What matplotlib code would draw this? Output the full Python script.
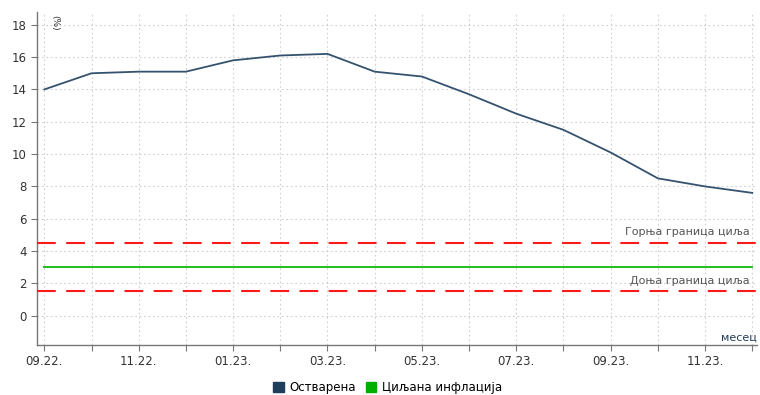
import matplotlib
matplotlib.use("Agg")
import matplotlib.pyplot as plt
from matplotlib.patches import Patch

months = ["09.22.", "10.22.", "11.22.", "12.22.", "01.23.", "02.23.", "03.23.", "04.23.",
          "05.23.", "06.23.", "07.23.", "08.23.", "09.23.", "10.23.", "11.23.", "12.23."]
actual = [14.0, 15.0, 15.1, 15.1, 15.8, 16.1, 16.2, 15.1, 14.8, 13.7, 12.5, 11.5, 10.1, 8.5, 8.0, 7.6]
target = [3.0] * len(months)
upper = 4.5
lower = 1.5

NAVY, GREEN, RED, GREY = "#35536e", "#1fbf1f", "#ff1a1a", "#555555"

plt.rcParams["font.family"] = ["DejaVu Sans"]
fig = plt.figure(figsize=(7.6, 3.95), dpi=100)
ax = fig.add_axes([0.049, 0.127, 0.947, 0.843])

x = list(range(len(months)))
ax.plot(x, actual, color=NAVY, lw=1.3, zorder=4)
ax.plot(x, target, color=GREEN, lw=1.4, zorder=3)
ax.axhline(upper, color=RED, lw=1.5, dashes=(9, 5), zorder=3)
ax.axhline(lower, color=RED, lw=1.5, dashes=(9, 5), zorder=3)

ax.set_xlim(-0.15, 15.1)
ax.set_ylim(-1.8, 18.8)
ax.set_yticks(range(0, 19, 2))
ax.set_xticks(x)
ax.set_xticklabels([m if i % 2 == 0 else "" for i, m in enumerate(months)])
ax.grid(True, color="#cfcfcf", lw=0.8, ls=(0, (1.5, 2.5)))
ax.set_axisbelow(True)

for s in ("top", "right"):
    ax.spines[s].set_visible(False)
for s in ("left", "bottom"):
    ax.spines[s].set_color("#777777")
    ax.spines[s].set_linewidth(1.0)
ax.tick_params(axis="both", direction="out", length=4, color="#777777",
               labelsize=8.5, labelcolor="#333333")

ax.text(14.95, upper + 0.35, "Горња граница циља", ha="right", va="bottom",
        fontsize=8, color=GREY)
ax.text(14.95, lower + 0.35, "Доња граница циља", ha="right", va="bottom",
        fontsize=8, color=GREY)
ax.text(15.1, -1.65, "месец", ha="right", va="bottom", fontsize=8, color="#1f3a5a")
ax.text(0.12, 18.6, "(%)", rotation=270, ha="left", va="top", fontsize=6.5, color="#333333")

handles = [Patch(color="#1f3d5c"), Patch(color="#00b000")]
fig.legend(handles, ["Остварена", "Циљана инфлација"], loc="lower center",
           bbox_to_anchor=(0.51, -0.025), ncol=2, frameon=False, fontsize=8.5,
           handlelength=0.9, handleheight=0.9, handletextpad=0.5, columnspacing=0.8)

fig.savefig("out.png", dpi=100)
